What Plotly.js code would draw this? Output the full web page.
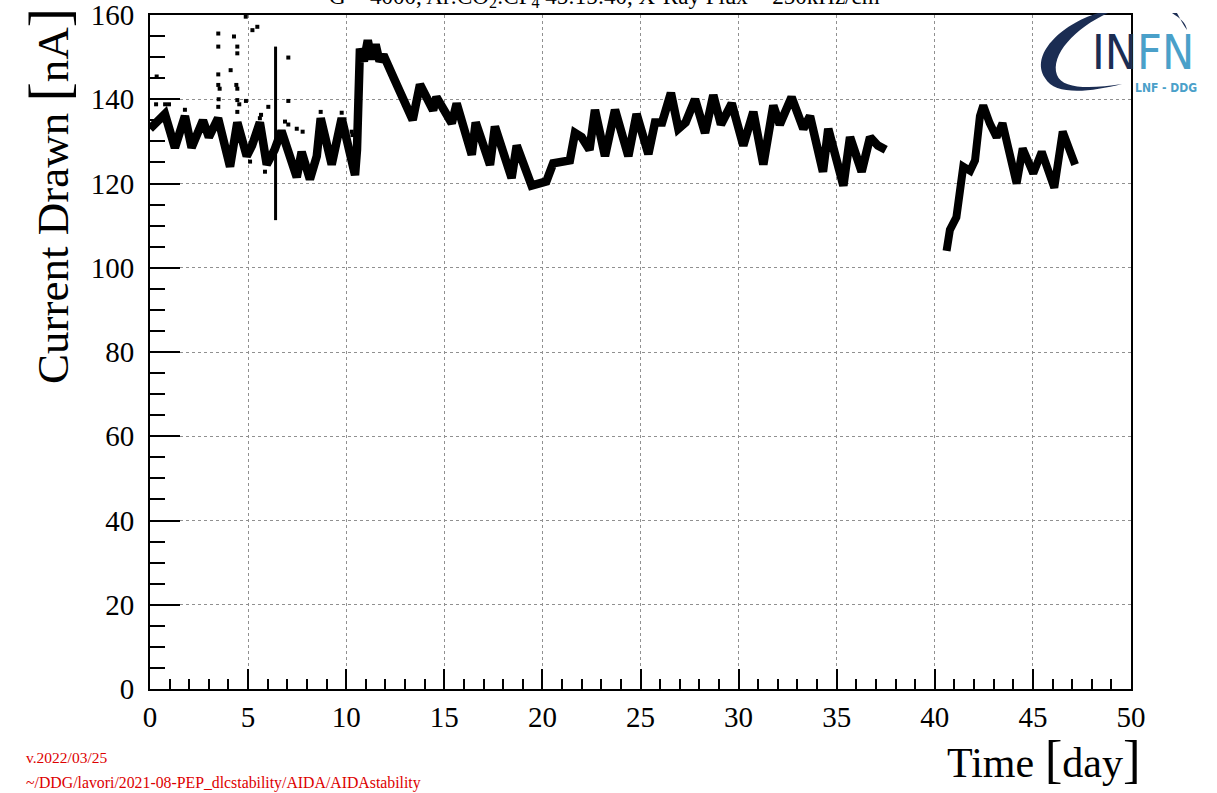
<!DOCTYPE html>
<html>
<head>
<meta charset="utf-8">
<script src="https://cdn.plot.ly/plotly-3.0.1.min.js"></script>
<style>html,body{margin:0;padding:0;background:#fff;}#chart{width:1217px;height:793px;}</style>
</head>
<body>
<div id="chart"></div>
<script>
// ---- data ----
const segA_t = [0, 0.3, 0.76, 1.27, 1.78, 2.12, 2.7, 3.0, 3.47, 4.08, 4.45, 4.93, 5.2, 5.6, 5.95, 6.35, 6.7, 7.48, 7.73, 8.15, 8.5, 8.7, 9.26, 9.77, 10.45, 10.55, 10.7, 10.9, 11.1, 11.3, 11.5, 11.7, 11.9, 12.4, 13.39, 13.76, 14.43, 14.6, 15.0, 15.38, 15.63, 16.4, 16.6, 17.33, 17.58, 18.43, 18.69, 19.45, 20.2, 20.55, 21.4, 21.66, 22.0, 22.4, 22.68, 23.19, 23.7, 24.38, 24.8, 25.4, 25.74, 26.1, 26.55, 26.93, 27.3, 27.78, 28.29, 28.71, 29.1, 29.65, 30.24, 30.75, 31.26, 31.77, 32.1, 32.7, 33.3, 33.64, 34.3, 34.57, 35.34, 35.68, 36.27, 36.7, 37.1, 37.5];
const segA_I = [133, 134.5, 136.5, 128.5, 136, 128.5, 135, 131, 135.5, 124, 134.5, 126.5, 129, 134.5, 124.5, 128, 132.5, 121.5, 127.5, 121, 126.5, 135.5, 124.5, 135.5, 122, 128, 152, 149, 154, 149.5, 153, 149, 150.5, 145.3, 135.1, 143.5, 137.4, 140.5, 137, 134.3, 139, 126.8, 134.5, 124.4, 133.5, 121.3, 129, 119.5, 120.5, 124.8, 125.5, 132, 131, 128, 137.5, 126.5, 137.5, 126.5, 136.5, 127, 134.5, 134.5, 141.5, 133, 134.5, 140, 132, 141, 134, 139, 129, 137, 124.5, 138.5, 134, 140.5, 133, 136, 122.8, 133, 119.5, 131, 122.8, 131, 129, 128];

const segB_t = [40.6, 40.77, 41.1, 41.28, 41.45, 41.8, 42.05, 42.3, 42.47, 42.8, 43.15, 43.45, 44.17, 44.48, 45.02, 45.45, 46.09, 46.52, 47.15];
const segB_I = [104, 109, 112, 118.5, 124, 123, 125.5, 136, 138.5, 134.3, 131, 134.3, 120, 128.3, 122.4, 127.5, 119, 132.3, 124.5];

const spike_t = [6.4, 6.4];
const spike_I = [111.3, 152.5];

const out_t = [0.31, 0.34, 0.77, 0.97, 1.78, 3.48, 3.48, 3.48, 3.48, 3.55, 3.48, 3.5, 4.11, 4.28, 4.45, 4.45, 4.4, 4.45, 4.45, 4.55, 4.45, 4.88, 5.22, 5.47, 4.89, 7.05, 7.05, 6.03, 5.66, 5.6, 6.88, 7.05, 7.48, 7.78, 8.7, 9.77, 5.86, 10.28, 10.32, 10.62, 5.1];
const out_I = [138.8, 145.4, 138.8, 138.8, 137.5, 155.6, 152.5, 145.9, 143.4, 142.5, 138.2, 140, 146.9, 154.9, 152.5, 150.9, 143.4, 142.5, 139.8, 138.8, 137, 159.6, 156.4, 157.2, 139.6, 149.9, 139.6, 138.2, 136.3, 135.5, 134.7, 134, 133, 132.3, 137, 136.8, 122.8, 132.3, 131.5, 128.3, 125.2];

const xTickVals = [0, 5, 10, 15, 20, 25, 30, 35, 40, 45, 50];
const yTickVals = [0, 20, 40, 60, 80, 100, 120, 140, 160];

const titleText = 'G = 4000, Ar:CO<sub>2</sub>:CF<sub>4</sub> 45:15:40, X-Ray Flux = 250kHz/cm<sup>2</sup>';
const yTitleText = 'Current Drawn <span style="font-size:58px">[</span>nA<span style="font-size:58px">]</span>';
const xTitleText = 'Time <span style="font-size:53px">[</span>day<span style="font-size:53px">]</span>';
const footer1 = 'v.2022/03/25';
const footer2 = '~/DDG/lavori/2021-08-PEP_dlcstability/AIDA/AIDAstability';

// ---- layout helpers ----
const L = 150, R = 1131, T = 15, B = 689;
function px(x) { return (x - L) / (R - L); }
function py(y) { return (B - y) / (B - T); }
function pathPx(cmds) {
  return cmds.map(c => {
    const letter = c[0];
    const nums = [];
    for (let i = 1; i < c.length; i += 2) nums.push(px(c[i]).toFixed(5) + ',' + py(c[i + 1]).toFixed(5));
    return letter + nums.join(' ');
  }).join(' ');
}

const serif = 'Liberation Serif, Times New Roman, serif';
const cond = 'DejaVu Sans Condensed, DejaVu Sans, sans-serif';

const traces = [
  { x: segA_t, y: segA_I, mode: 'lines', line: { color: 'black', width: 8.5 }, hoverinfo: 'skip' },
  { x: segB_t, y: segB_I, mode: 'lines', line: { color: 'black', width: 8 }, hoverinfo: 'skip' },
  { x: spike_t, y: spike_I, mode: 'lines', line: { color: 'black', width: 3 }, hoverinfo: 'skip' },
  { x: out_t, y: out_I, mode: 'markers', marker: { symbol: 'square', size: 4, color: 'black' }, hoverinfo: 'skip' }
];

const swoosh = pathPx([
  ['M', 1098, 13],
  ['C', 1060, 25, 1030, 55, 1045, 78],
  ['C', 1055, 96, 1090, 92, 1122, 84],
  ['C', 1090, 89, 1062, 89, 1057, 75],
  ['C', 1050, 55, 1075, 28, 1108, 13],
  ['Z']
]);
const swoosh2 = pathPx([
  ['M', 1172, 13],
  ['C', 1180, 18, 1186, 23, 1187, 30],
  ['C', 1183, 24, 1180, 19, 1177, 13],
  ['Z']
]);

const layout = {
  width: 1217, height: 793,
  margin: { l: L, r: 1217 - R, t: T, b: 793 - B, pad: 0 },
  paper_bgcolor: 'white', plot_bgcolor: 'white',
  showlegend: false,
  font: { family: serif, color: 'black' },
  xaxis: {
    range: [0, 50], tickvals: xTickVals, ticks: 'inside', ticklen: 20, tickwidth: 2, tickcolor: 'black',
    showline: true, linewidth: 2, linecolor: 'black', mirror: true,
    showgrid: true, gridcolor: '#909090', griddash: 'dot', gridwidth: 1, zeroline: false,
    tickfont: { family: serif, size: 29, color: 'black' },
    ticklabelstandoff: 1, ticklabeloverflow: 'allow',
    minor: { dtick: 1, ticklen: 10, tickwidth: 2, tickcolor: 'black', ticks: 'inside', showgrid: false }
  },
  yaxis: {
    range: [0, 160], tickvals: yTickVals, ticks: 'inside', ticklen: 30, tickwidth: 2, tickcolor: 'black',
    showline: true, linewidth: 2, linecolor: 'black', mirror: true,
    showgrid: true, gridcolor: '#909090', griddash: 'dot', gridwidth: 1, zeroline: false,
    tickfont: { family: serif, size: 29, color: 'black' },
    ticklabelstandoff: 8, ticklabeloverflow: 'allow',
    minor: { dtick: 5, ticklen: 15, tickwidth: 2, tickcolor: 'black', ticks: 'inside', showgrid: false }
  },
  shapes: [
    { type: 'path', xref: 'paper', yref: 'paper', path: swoosh, fillcolor: '#1b2d53', line: { width: 0 }, layer: 'above' },
    { type: 'path', xref: 'paper', yref: 'paper', path: swoosh2, fillcolor: '#1b2d53', line: { width: 0 }, layer: 'above' }
  ],
  annotations: [
    { text: titleText, xref: 'paper', yref: 'paper', x: px(608), y: py(-4), xanchor: 'center', yanchor: 'middle', showarrow: false, font: { family: serif, size: 23, color: 'black' } },
    { text: yTitleText, xref: 'paper', yref: 'paper', x: px(49), y: py(6), xanchor: 'center', yanchor: 'top', textangle: -90, showarrow: false, font: { family: serif, size: 45, color: 'black' } },
    { text: xTitleText, xref: 'paper', yref: 'paper', x: px(1143), y: py(759), xanchor: 'right', yanchor: 'middle', showarrow: false, font: { family: serif, size: 42, color: 'black' } },
    { text: footer1, xref: 'paper', yref: 'paper', x: px(24), y: py(757), xanchor: 'left', yanchor: 'middle', showarrow: false, font: { family: serif, size: 15.5, color: '#dd0000' } },
    { text: footer2, xref: 'paper', yref: 'paper', x: px(24), y: py(783), xanchor: 'left', yanchor: 'middle', showarrow: false, font: { family: serif, size: 15.8, color: '#dd0000' } },
    { text: '<span style="color:#1b2d53">IN</span><span style="color:#4aa0c9">FN</span>', xref: 'paper', yref: 'paper', x: px(1143), y: py(52), xanchor: 'center', yanchor: 'middle', showarrow: false, font: { family: cond, size: 48, color: '#1b2d53' } },
    { text: '<b>LNF - DDG</b>', xref: 'paper', yref: 'paper', x: px(1166), y: py(88), xanchor: 'center', yanchor: 'middle', showarrow: false, font: { family: cond, size: 12, color: '#4aa0c9' } }
  ]
};

Plotly.newPlot('chart', traces, layout, { staticPlot: true, displayModeBar: false });
</script>
</body>
</html>
